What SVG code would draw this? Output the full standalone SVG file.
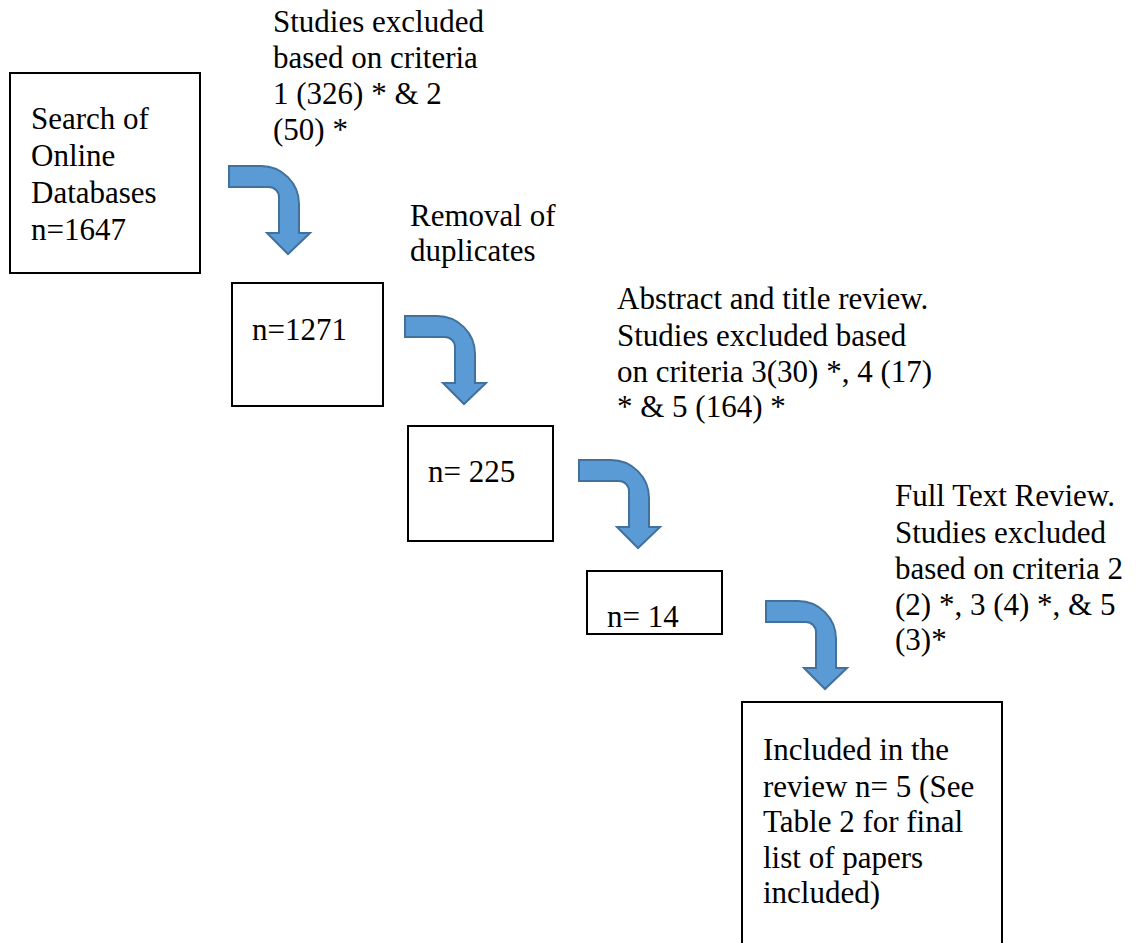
<svg xmlns="http://www.w3.org/2000/svg" xmlns:xlink="http://www.w3.org/1999/xlink" width="1136" height="943" viewBox="0 0 1136 943">
<style>
.box{fill:#fff;stroke:#000;stroke-width:2}
.t{font-family:'Liberation Serif',Tinos,'Times New Roman',Times,'DejaVu Serif',serif;font-size:31px;fill:#000}
.arr{fill:#5B9BD5;stroke:#41719C;stroke-width:2;stroke-linejoin:miter}
</style>
<defs>
<path id="bent" d="M0,0 H32 A38,38 0 0 1 70,38 V67 H81 L59,88 L38,67 H50 V31 A10,10 0 0 0 40,21 H0 Z"/>
</defs>
<rect width="1136" height="943" fill="#fff"/>
<g id="connectors">
<use xlink:href="#bent" class="arr" transform="translate(229,166)"/>
<use xlink:href="#bent" class="arr" transform="translate(405,316)"/>
<use xlink:href="#bent" class="arr" transform="translate(579,460)"/>
<use xlink:href="#bent" class="arr" transform="translate(766,601)"/>
</g>
<g id="n1">
<rect class="box" x="10" y="73" width="190" height="200"/>
<text class="t" x="31" y="129">Search of</text>
<text class="t" x="31" y="166">Online</text>
<text class="t" x="31" y="203">Databases</text>
<text class="t" x="31" y="240">n=1647</text>
</g>
<g id="label1">
<text class="t" x="273" y="32">Studies excluded</text>
<text class="t" x="273" y="68">based on criteria</text>
<text class="t" x="273" y="104">1 (326) * &amp; 2</text>
<text class="t" x="273" y="140">(50) *</text>
</g>
<g id="n2">
<rect class="box" x="232" y="283" width="151" height="123"/>
<text class="t" x="252" y="340">n=1271</text>
</g>
<g id="label2">
<text class="t" x="410" y="226">Removal of</text>
<text class="t" x="410" y="261">duplicates</text>
</g>
<g id="n3">
<rect class="box" x="408" y="426" width="145" height="115"/>
<text class="t" x="428" y="482">n= 225</text>
</g>
<g id="label3">
<text class="t" x="617" y="309">Abstract and title review.</text>
<text class="t" x="617" y="346">Studies excluded based</text>
<text class="t" x="617" y="382">on criteria 3(30) *, 4 (17)</text>
<text class="t" x="617" y="417">* &amp; 5 (164) *</text>
</g>
<g id="n4">
<rect class="box" x="587" y="571" width="135" height="63"/>
<text class="t" x="607" y="627">n= 14</text>
</g>
<g id="label4">
<text class="t" x="895" y="506">Full Text Review.</text>
<text class="t" x="895" y="543">Studies excluded</text>
<text class="t" x="895" y="579">based on criteria 2</text>
<text class="t" x="895" y="615">(2) *, 3 (4) *, &amp; 5</text>
<text class="t" x="895" y="650">(3)*</text>
</g>
<g id="n5">
<rect class="box" x="742" y="702" width="260" height="260"/>
<text class="t" x="763" y="760">Included in the</text>
<text class="t" x="763" y="797">review n= 5 (See</text>
<text class="t" x="763" y="832">Table 2 for final</text>
<text class="t" x="763" y="868">list of papers</text>
<text class="t" x="763" y="903">included)</text>
</g>
</svg>
